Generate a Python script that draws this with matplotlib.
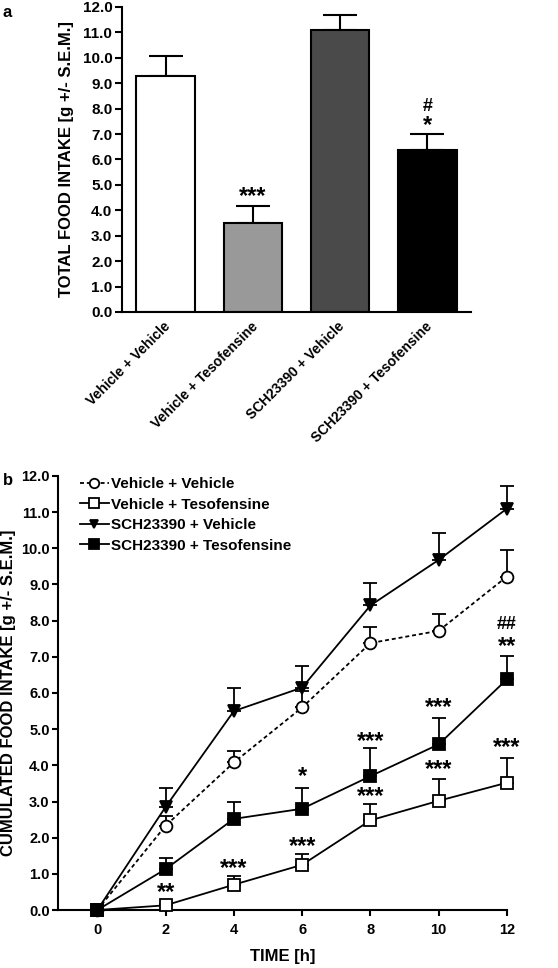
import numpy as np
import matplotlib
matplotlib.use("Agg")
import matplotlib.pyplot as plt

plt.rcParams['font.family'] = ['Liberation Sans', 'DejaVu Sans']
plt.rcParams['font.weight'] = 'bold'
plt.rcParams['axes.labelweight'] = 'bold'

# Panel a: total food intake
groups = ["Vehicle + Vehicle", "Vehicle + Tesofensine",
          "SCH23390 + Vehicle", "SCH23390 + Tesofensine"]
totals = [9.3, 3.52, 11.1, 6.38]
totals_sem = [0.77, 0.66, 0.6, 0.64]
bar_colors = ["white", "#999999", "#4a4a4a", "black"]
# significance marks above bars: (bar index, centre y, text)
bar_marks = [(1, 4.72, "***"), (3, 7.5, "*"), (3, 8.15, "#")]

# Panel b: cumulated intake over time
hours = [0, 2, 4, 6, 8, 10, 12]
veh_veh = [0, 2.33, 4.08, 5.6, 7.38, 7.72, 9.22]
veh_veh_sem = [0, 0.27, 0.32, 0.45, 0.44, 0.46, 0.73]
veh_teso = [0, 0.13, 0.7, 1.25, 2.48, 3.02, 3.52]
veh_teso_sem = [0, 0.05, 0.25, 0.3, 0.45, 0.6, 0.68]
sch_veh = [0, 2.85, 5.5, 6.15, 8.42, 9.68, 11.1]
sch_veh_sem = [0, 0.53, 0.65, 0.6, 0.63, 0.74, 0.62]
sch_teso = [0, 1.13, 2.52, 2.8, 3.7, 4.58, 6.38]
sch_teso_sem = [0, 0.32, 0.48, 0.58, 0.78, 0.74, 0.64]

# significance marks: (x, centre y, text)
line_marks = [
    (2, 0.61, "**"), (4, 1.27, "***"), (6, 1.88, "***"), (6, 3.82, "*"),
    (8, 3.26, "***"), (8, 4.78, "***"), (10, 4.0, "***"), (10, 5.72, "***"),
    (12, 4.62, "***"), (12, 7.41, "**"), (12, 7.96, "##"),
]


def mark(ax, xx, yy, t):
    # place the visible glyphs centred on (xx, yy)
    if "*" in t:
        fs, off = 17, 0.47
    else:
        fs, off = 13, 0.36
    ax.annotate(t, (xx, yy), xytext=(0, -off * fs), textcoords="offset points",
                ha="center", va="baseline", fontsize=fs, fontweight="bold",
                annotation_clip=False)


fig = plt.figure(figsize=(5.58, 9.68), dpi=100)

# ---- panel a ----
ax1 = fig.add_axes([0.2186, 0.6777, 0.6254, 0.3151])
x = np.arange(len(groups))
ax1.bar(x, totals, width=0.67, color=bar_colors, edgecolor="black", linewidth=1.5,
        zorder=2)
ax1.errorbar(x, totals, yerr=[np.zeros(4), totals_sem], fmt="none", ecolor="black",
             elinewidth=1.5, capsize=12, capthick=1.5, zorder=1)
for i, yy, t in bar_marks:
    mark(ax1, x[i], yy, t)
ax1.set_xlim(-0.5, 3.5)
ax1.set_ylim(0, 12)
yt = np.arange(0, 12.1, 1.0)
ax1.set_yticks(yt)
ax1.set_yticklabels([f"{v:.1f}" for v in yt])
ax1.set_xticks(x + 0.03)
ax1.set_xticklabels(groups, rotation=45, ha="right", va="center",
                    rotation_mode="anchor")
ax1.tick_params(axis="x", length=0, pad=9, labelsize=10)
ax1.tick_params(axis="y", direction="out", width=1.5, length=5, pad=2, labelsize=11)
ax1.set_ylabel("TOTAL FOOD INTAKE [g +/- S.E.M.]", fontsize=12, labelpad=6)
for s in ["top", "right"]:
    ax1.spines[s].set_visible(False)
for s in ["left", "bottom"]:
    ax1.spines[s].set_linewidth(1.5)
fig.text(0.005, 0.995, "a", fontsize=12, fontweight="bold", va="top")

# ---- panel b ----
ax2 = fig.add_axes([0.104, 0.0599, 0.8046, 0.4484])
series = [
    (veh_veh, veh_veh_sem, "o", 8.5, "white", (0, (2.2, 1.6)), "Vehicle + Vehicle"),
    (veh_teso, veh_teso_sem, "s", 9, "white", "-", "Vehicle + Tesofensine"),
    (sch_veh, sch_veh_sem, "v", 8, "black", "-", "SCH23390 + Vehicle"),
    (sch_teso, sch_teso_sem, "s", 9, "black", "-", "SCH23390 + Tesofensine"),
]
for vals, sem, mk, ms, fc, ls, lab in series:
    ax2.errorbar(hours, vals, yerr=[np.zeros(len(sem)), sem], fmt="none",
                 ecolor="black", elinewidth=1.3, capsize=5, capthick=1.3, zorder=1,
                 clip_on=False)
    ax2.plot(hours, vals, linestyle=ls, color="black", linewidth=1.3, marker=mk,
             markersize=ms, markerfacecolor=fc, markeredgecolor="black",
             markeredgewidth=1.3, label=lab, zorder=3, clip_on=False)
for xx, yy, t in line_marks:
    mark(ax2, xx, yy, t)
ax2.set_xlim(-1.15, 12)
ax2.set_ylim(0, 12)
ax2.set_xticks(hours)
ax2.set_yticks(yt)
ax2.set_yticklabels([f"{v:.1f}" for v in yt])
ax2.tick_params(direction="out", width=1.5, length=4, pad=2, labelsize=10.5)
ax2.tick_params(axis="x", pad=5)
ax2.set_xlabel("TIME [h]", fontsize=12, labelpad=9)
ax2.set_ylabel("CUMULATED FOOD INTAKE [g +/- S.E.M.]", fontsize=12, labelpad=4)
for s in ["top", "right"]:
    ax2.spines[s].set_visible(False)
for s in ["left", "bottom"]:
    ax2.spines[s].set_linewidth(1.5)
ax2.legend(loc="upper left", bbox_to_anchor=(0.035, 1.011), frameon=False,
           fontsize=11, handlelength=1.9, handletextpad=0.15, labelspacing=0.42,
           borderaxespad=0, markerscale=0.8)
fig.text(0.005, 0.504, "b", fontsize=12, fontweight="bold", va="center")

fig.savefig("out.png", dpi=100)
